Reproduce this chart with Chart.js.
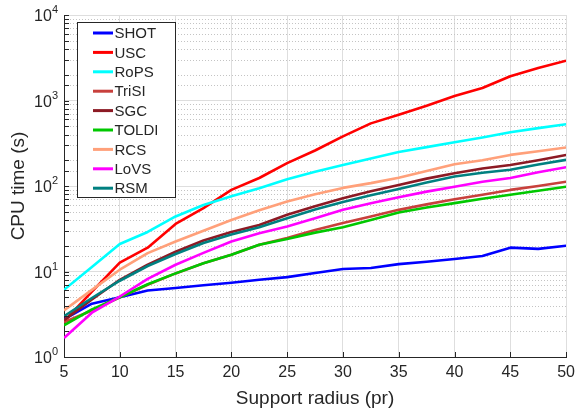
<!DOCTYPE html>
<html>
<head>
<meta charset="utf-8">
<title>CPU time vs support radius</title>
<script src="https://cdn.jsdelivr.net/npm/chart.js@4.4.0/dist/chart.umd.min.js"></script>
<style>
  html, body { margin: 0; padding: 0; background: #fff; }
  #wrap { width: 581px; height: 412px; }
</style>
</head>
<body>
<div id="wrap"><canvas id="chartCpu" width="581" height="412"></canvas></div>
<script>
// Dados (raio de suporte em pr, tempo de CPU em s)
const radius = [5, 7.5, 10, 12.5, 15, 17.5, 20, 22.5, 25, 27.5, 30, 32.5, 35, 37.5, 40, 42.5, 45, 47.5, 50];

const names = ['SHOT', 'USC', 'RoPS', 'TriSI', 'SGC', 'TOLDI', 'RCS', 'LoVS', 'RSM'];

const shot  = [2.75, 4.2, 5.0, 6.0, 6.4, 6.9, 7.4, 8.0, 8.6, 9.6, 10.7, 11.0, 12.2, 13.0, 14.0, 15.2, 19.0, 18.4, 20.0];
const usc   = [2.6, 5.8, 12.7, 19, 36, 55, 90, 124, 185, 260, 380, 540, 680, 870, 1130, 1400, 1920, 2400, 2920];
const rops  = [6.1, 11.3, 21, 29, 44, 60, 76, 94, 120, 147, 176, 210, 250, 285, 325, 370, 425, 475, 527];
const trisi = [2.55, 3.5, 5.0, 7.0, 9.5, 12.5, 15.7, 20.5, 24.6, 30.5, 37, 44, 52.6, 61, 70, 79, 90, 100, 112];
const sgc   = [2.7, 4.7, 8.0, 12, 17, 23, 29, 35, 46, 58, 72, 87, 103, 122, 141, 160, 176, 200, 231];
const toldi = [2.35, 3.6, 5.0, 7.1, 9.5, 12.5, 15.7, 20.5, 24, 28.5, 33, 40, 49, 56, 63, 71, 79, 88, 98];
const rcs   = [3.5, 6.1, 10.5, 16.4, 22.4, 30, 40, 52, 66, 80, 95, 108, 125, 150, 180, 200, 231, 255, 282];
const lovs  = [1.67, 3.3, 5.1, 8.2, 12, 16.5, 22.4, 28, 33.6, 42, 52.6, 63, 74, 86, 98, 112, 124, 145, 166];
const rsm   = [3.0, 4.9, 7.8, 11.6, 16, 21.5, 27, 33, 42, 53, 65, 78, 92, 110, 129, 143, 155, 178, 202];

const series = [shot, usc, rops, trisi, sgc, toldi, rcs, lovs, rsm];
const colors = ['#0000ff', '#ff0000', '#00ffff', '#c8403c', '#8c1a24', '#00c800', '#ffa07a', '#ff00ff', '#008080'];

const xTicks = [5, 10, 15, 20, 25, 30, 35, 40, 45, 50];

const TEXT = '#262626';
const FONT = '"Liberation Sans", Arial, Helvetica, sans-serif';
Chart.defaults.font.family = FONT;
Chart.defaults.color = TEXT;

const isPow10 = v => Math.abs(Math.log10(v) - Math.round(Math.log10(v))) < 1e-9;

// Grade menor pontilhada, marcas internas, rótulos 10^n e legenda interna
const matlabAxes = {
  id: 'matlabAxes',
  beforeDatasetsDraw(chart) {
    const { ctx, chartArea: a, scales: { y } } = chart;
    ctx.save();
    ctx.strokeStyle = '#c4c4c4';
    ctx.lineWidth = 1;
    ctx.setLineDash([1, 2]);
    y.ticks.forEach(t => {
      if (isPow10(t.value)) return;
      const py = Math.round(y.getPixelForValue(t.value)) + 0.5;
      ctx.beginPath();
      ctx.moveTo(a.left, py);
      ctx.lineTo(a.right, py);
      ctx.stroke();
    });
    ctx.restore();
  },
  afterDraw(chart) {
    const { ctx, chartArea: a, scales: { x, y } } = chart;
    ctx.save();

    // marcas voltadas para dentro
    ctx.strokeStyle = TEXT;
    ctx.lineWidth = 1;
    ctx.beginPath();
    y.ticks.forEach(t => {
      const py = Math.round(y.getPixelForValue(t.value)) + 0.5;
      ctx.moveTo(a.left, py);
      ctx.lineTo(a.left + 5, py);
    });
    xTicks.forEach(v => {
      const px = Math.round(x.getPixelForValue(v)) + 0.5;
      ctx.moveTo(px, a.bottom);
      ctx.lineTo(px, a.bottom - 5);
    });
    ctx.stroke();

    // rótulos do eixo y: 10 com expoente
    ctx.fillStyle = TEXT;
    ctx.textBaseline = 'middle';
    ctx.textAlign = 'right';
    y.ticks.forEach(t => {
      if (!isPow10(t.value)) return;
      const py = y.getPixelForValue(t.value);
      const exp = String(Math.round(Math.log10(t.value)));
      ctx.font = '11px ' + FONT;
      const w = ctx.measureText(exp).width;
      ctx.fillText(exp, a.left - 6, py - 5);
      ctx.font = '16px ' + FONT;
      ctx.fillText('10', a.left - 6 - w, py + 2);
    });

    // legenda
    const lx = 77.5, ly = 22.5, lw = 98, lh = 175;
    ctx.fillStyle = '#fff';
    ctx.fillRect(lx, ly, lw, lh);
    ctx.strokeStyle = TEXT;
    ctx.strokeRect(lx, ly, lw, lh);
    ctx.font = '15px ' + FONT;
    ctx.textAlign = 'left';
    names.forEach((n, i) => {
      const ry = 33 + i * 19.4;
      ctx.strokeStyle = colors[i];
      ctx.lineWidth = 3;
      ctx.beginPath();
      ctx.moveTo(93, ry);
      ctx.lineTo(113, ry);
      ctx.stroke();
      ctx.fillStyle = TEXT;
      ctx.fillText(n, 114.5, ry + 1);
    });
    ctx.restore();
  }
};

const datasets = series.map((vals, i) => ({
  label: names[i],
  data: vals.map((v, k) => ({ x: radius[k], y: v })),
  borderColor: colors[i],
  backgroundColor: colors[i],
  borderWidth: 2.6,
  pointRadius: 0,
  tension: 0,
  fill: false,
  borderJoinStyle: 'round',
  order: series.length - i
}));

new Chart(document.getElementById('chartCpu'), {
  type: 'line',
  data: { datasets },
  options: {
    responsive: false,
    animation: false,
    layout: { padding: { top: 15, right: 11, left: 0, bottom: 0 } },
    plugins: { legend: { display: false }, tooltip: { enabled: false } },
    scales: {
      x: {
        type: 'linear',
        min: 5,
        max: 50,
        afterBuildTicks: s => { s.ticks = xTicks.map(v => ({ value: v })); },
        ticks: { font: { size: 16 }, padding: 6, color: TEXT },
        grid: { color: '#dedede', drawTicks: false },
        border: { color: TEXT },
        title: { display: true, text: 'Support radius (pr)', font: { size: 19 }, color: TEXT, padding: { top: 0, bottom: 2 } },
        afterFit: s => { s.height = 55; }
      },
      y: {
        type: 'logarithmic',
        min: 1,
        max: 10000,
        ticks: { autoSkip: false, callback: () => '' },
        grid: { color: c => (c.tick && isPow10(c.tick.value)) ? '#dedede' : 'rgba(0,0,0,0)', drawTicks: false },
        border: { color: TEXT },
        title: { display: true, text: 'CPU time (s)', font: { size: 19 }, color: TEXT, padding: { top: 7, bottom: 0 } },
        afterFit: s => { s.width = 64; }
      }
    }
  },
  plugins: [matlabAxes]
});
</script>
</body>
</html>
